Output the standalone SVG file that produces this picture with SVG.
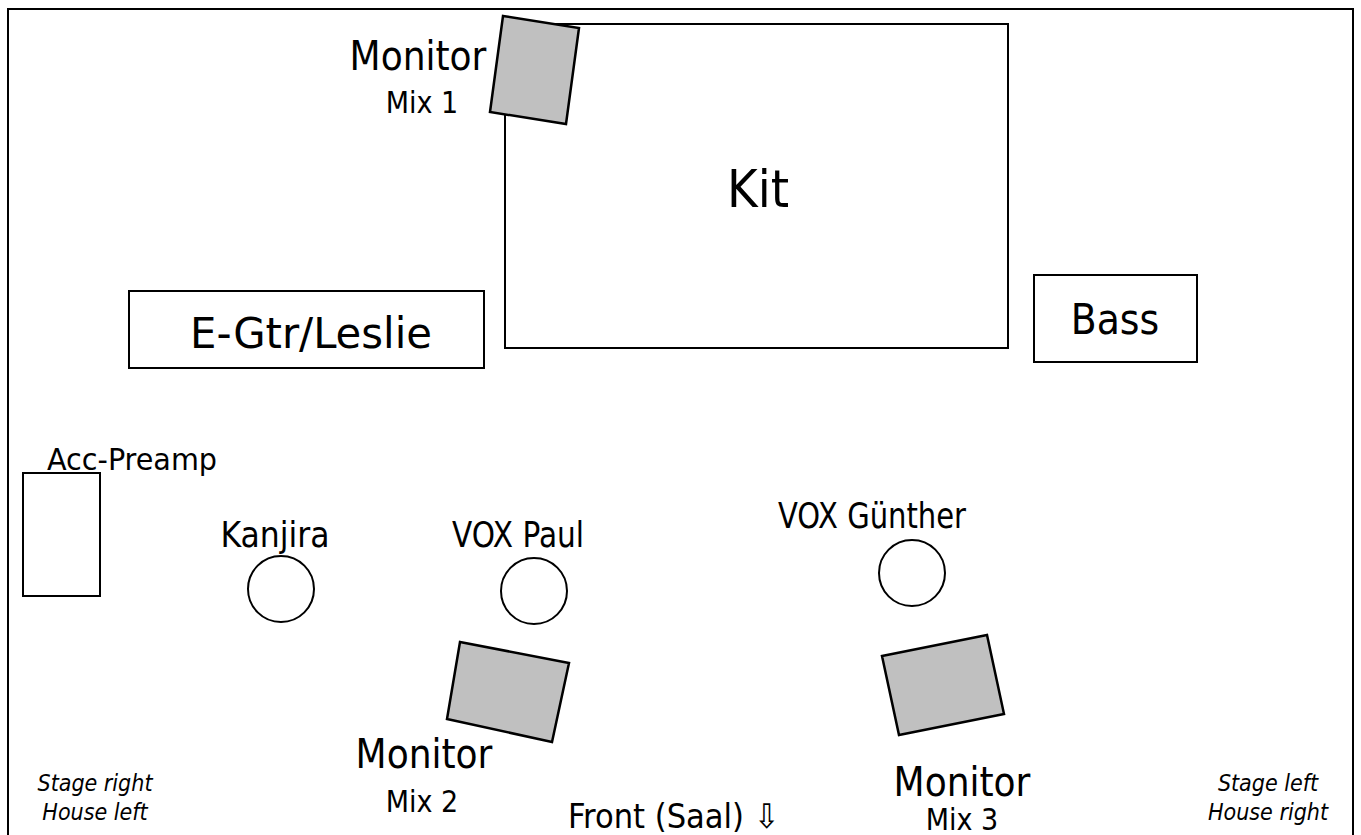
<svg xmlns="http://www.w3.org/2000/svg" width="1361" height="835" viewBox="0 0 1361 835">
<style>
  text { font-family: "DejaVu Sans Condensed", "DejaVu Sans", sans-serif; fill: #000; text-anchor: middle; }
  .box { fill: #fff; stroke: #000; stroke-width: 2; }
  .mon { fill: #c0c0c0; stroke: #000; stroke-width: 2.5; stroke-linejoin: miter; }
  .mic { fill: #fff; stroke: #000; stroke-width: 2; }
  .big { font-size: 42px; }
  .lab { font-size: 35px; }
  .monl { font-size: 40px; }
  .mix { font-size: 30px; }
  .it { font-size: 23px; font-style: italic; }
</style>
<rect width="1361" height="835" fill="#fff"/>
<rect id="stage" x="8" y="9" width="1345" height="840" fill="none" stroke="#000" stroke-width="2"/>
<g id="connectors"/>
<g id="kit">
  <rect class="box" x="505" y="24" width="503" height="324"/>
  <text x="758" y="207" style="font-size:52px">Kit</text>
</g>
<g id="monitor1">
  <polygon class="mon" points="503,16 579,28 566,124 490,112"/>
  <text class="monl" x="418" y="70">Monitor</text>
  <text class="mix" x="422" y="113">Mix 1</text>
</g>
<g id="egtr">
  <rect class="box" x="129" y="291" width="355" height="77"/>
  <text class="big" x="311" y="348" textLength="242" lengthAdjust="spacingAndGlyphs">E-Gtr/Leslie</text>
</g>
<g id="bass">
  <rect class="box" x="1034" y="275" width="163" height="87"/>
  <text class="big" x="1115" y="334">Bass</text>
</g>
<g id="accpreamp">
  <rect class="box" x="23" y="473" width="77" height="123"/>
  <text x="47" y="470" style="text-anchor:start;font-size:30px" textLength="170" lengthAdjust="spacingAndGlyphs">Acc-Preamp</text>
</g>
<g id="kanjira">
  <circle class="mic" cx="281" cy="589" r="33"/>
  <text class="lab" x="275" y="547">Kanjira</text>
</g>
<g id="voxpaul">
  <circle class="mic" cx="534" cy="591" r="33"/>
  <text class="lab" x="518" y="547" textLength="132" lengthAdjust="spacingAndGlyphs">VOX Paul</text>
</g>
<g id="voxguenther">
  <circle class="mic" cx="912" cy="573" r="33"/>
  <text class="lab" x="872" y="528" textLength="188" lengthAdjust="spacingAndGlyphs">VOX Günther</text>
</g>
<g id="monitor2">
  <polygon class="mon" points="460,642 569,663 552,742 447,719"/>
  <text class="monl" x="424" y="768">Monitor</text>
  <text class="mix" x="422" y="812">Mix 2</text>
</g>
<g id="monitor3">
  <polygon class="mon" points="882,656 987,635 1004,714 899,735"/>
  <text class="monl" x="962" y="796">Monitor</text>
  <text class="mix" x="962" y="830">Mix 3</text>
</g>
<g id="front">
  <text x="568" y="828" style="text-anchor:start;font-size:34px">Front (Saal) ⇩</text>
</g>
<g id="stageright">
  <text class="it" x="95" y="791">Stage right</text>
  <text class="it" x="95" y="820">House left</text>
</g>
<g id="stageleft">
  <text class="it" x="1268" y="791">Stage left</text>
  <text class="it" x="1268" y="820">House right</text>
</g>
</svg>
